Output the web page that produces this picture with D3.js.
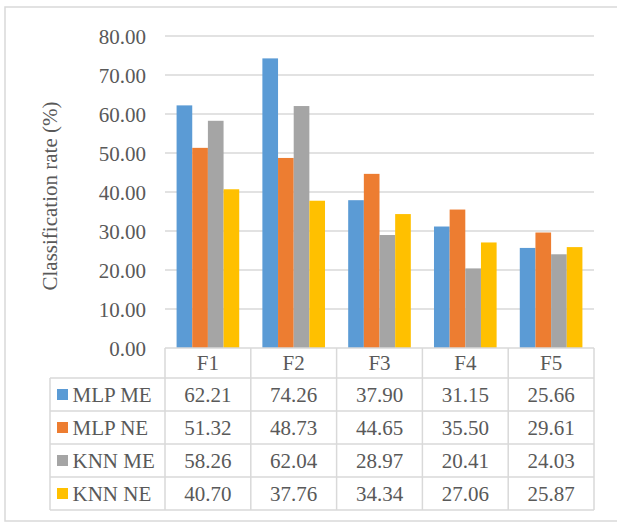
<!DOCTYPE html>
<html><head><meta charset="utf-8">
<script src="https://cdn.jsdelivr.net/npm/d3@7"></script>
<style>
html,body{margin:0;padding:0;background:#fff;}
</style></head>
<body><svg id="c" width="617" height="522" font-family="Liberation Serif"></svg>
<script>
const categories = ["F1","F2","F3","F4","F5"];
const seriesNames = ["MLP ME","MLP NE","KNN ME","KNN NE"];
const mlpME = [62.21,74.26,37.90,31.15,25.66];
const mlpNE = [51.32,48.73,44.65,35.50,29.61];
const knnME = [58.26,62.04,28.97,20.41,24.03];
const knnNE = [40.70,37.76,34.34,27.06,25.87];
const colors = ["#5B9BD5","#ED7D31","#A5A5A5","#FFC000"];
const yTicks = [0,10,20,30,40,50,60,70,80];
const seriesValues = [mlpME, mlpNE, knnME, knnNE];

const FONT = "Liberation Serif";
const TXT = "#595959";
const svg = d3.select("#c");
const grid = "#D9D9D9";
// outer border
svg.append("rect").attr("x",5).attr("y",7).attr("width",614).attr("height",514)
  .attr("fill","none").attr("stroke",grid).attr("stroke-width",1.5);

const pL = 165, pR = 594, pT = 36, base = 348;
const x = d3.scaleBand().domain(categories).range([pL,pR]).paddingInner(0.27).paddingOuter(0.135);
const xc = d3.scaleBand().domain(categories).range([pL,pR]);
const x1 = d3.scaleBand().domain(seriesNames).range([0,x.bandwidth()]);
const y = d3.scaleLinear().domain([0,80]).range([base,pT]);

// gridlines
svg.append("g").selectAll("line").data(yTicks.filter(d=>d>0)).join("line")
  .attr("x1",pL).attr("x2",pR).attr("y1",d=>y(d)).attr("y2",d=>y(d))
  .attr("stroke",grid).attr("stroke-width",1.5);

// y axis labels
const yAxis = d3.axisLeft(y).tickValues(yTicks).tickFormat(d3.format(".2f")).tickSize(0).tickPadding(0);
const ga = svg.append("g").attr("transform","translate(146,0)").call(yAxis);
ga.attr("font-family",FONT).attr("font-size",21);
ga.select(".domain").remove();
ga.selectAll("text").attr("fill",TXT).attr("dy","0.34em");

// bars
seriesNames.forEach((s,si)=>{
  svg.append("g").selectAll("rect").data(seriesValues[si]).join("rect")
    .attr("x",(d,i)=>x(categories[i])+x1(s)).attr("width",x1.bandwidth())
    .attr("y",d=>y(d)).attr("height",d=>base-y(d)).attr("fill",colors[si]);
});

// axis title
svg.append("text").attr("transform","translate(57,196) rotate(-90)")
  .attr("text-anchor","middle").attr("font-family",FONT).attr("fill",TXT).attr("font-size",21).text("Classification rate (%)");

// data table
const rowH = 33, headTop = 348, headBot = 378, labL = 50;
const tb = svg.append("g").attr("stroke",grid).attr("stroke-width",1.5).attr("fill","none");
tb.append("line").attr("x1",pL).attr("x2",pR).attr("y1",headTop).attr("y2",headTop);
for(let r=0;r<=seriesNames.length;r++){
  const yy = headBot + r*rowH;
  tb.append("line").attr("x1",labL).attr("x2",pR).attr("y1",yy).attr("y2",yy);
}
const tableBottom = headBot + seriesNames.length*rowH;
tb.append("line").attr("x1",labL).attr("x2",labL).attr("y1",headBot).attr("y2",tableBottom);
categories.forEach(c=>{
  tb.append("line").attr("x1",xc(c)).attr("x2",xc(c)).attr("y1",headTop).attr("y2",tableBottom);
});
tb.append("line").attr("x1",pR).attr("x2",pR).attr("y1",headTop).attr("y2",tableBottom);

// header
svg.append("g").selectAll("text").data(categories).join("text")
  .attr("x",d=>xc(d)+xc.bandwidth()/2).attr("y",(headTop+headBot)/2).attr("dy","0.35em")
  .attr("text-anchor","middle").attr("font-family",FONT).attr("fill",TXT).attr("font-size",21).text(d=>d);

seriesNames.forEach((s,si)=>{
  const cy = headBot + si*rowH + rowH/2;
  svg.append("rect").attr("x",57).attr("y",cy-5.5).attr("width",11).attr("height",11).attr("fill",colors[si]);
  svg.append("text").attr("x",72.5).attr("y",cy).attr("dy","0.35em").attr("font-family",FONT).attr("fill",TXT).attr("font-size",21).text(s);
  svg.append("g").selectAll("text").data(seriesValues[si]).join("text")
    .attr("x",(d,i)=>xc(categories[i])+xc.bandwidth()/2).attr("y",cy).attr("dy","0.35em")
    .attr("text-anchor","middle").attr("font-family",FONT).attr("fill",TXT).attr("font-size",21).text(d=>d.toFixed(2));
});
</script></body></html>
